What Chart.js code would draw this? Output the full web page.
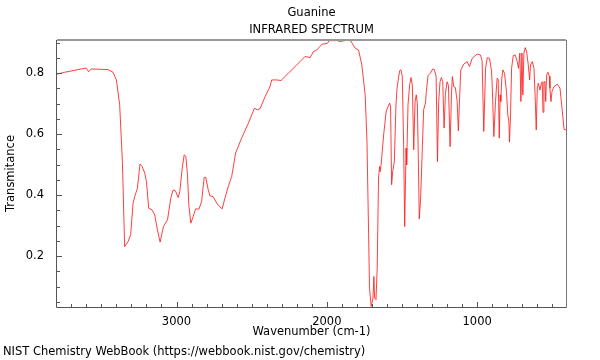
<!DOCTYPE html>
<html>
<head>
<meta charset="utf-8">
<script src="https://cdn.jsdelivr.net/npm/chart.js@4/dist/chart.umd.min.js"></script>
<style>
html,body{margin:0;padding:0;background:#fff;}
#c{display:block;}
</style>
</head>
<body>
<canvas id="c" width="600" height="360"></canvas>
<script>
const chartTitle = "Guanine";
const chartSubtitle = "INFRARED SPECTRUM";
const xTitle = "Wavenumber (cm-1)";
const yTitle = "Transmitance";
const footerText = "NIST Chemistry WebBook (https://webbook.nist.gov/chemistry)";
const xTickValues = [1000, 2000, 3000];
const yTickValues = [0.2, 0.4, 0.6, 0.8];

const wavenumbers = [
3795,3745,3633,3600,3585,3567,3456,3422,3400,3378,3360,3345,3322,3305,3289,3278,3260,3243,3229,3211,
3200,3185,3163,3145,3127,3109,3087,3060,3038,3023,3007,2989,2978,2962,2949,2938,2927,2918,2905,2889,
2873,2851,2833,2816,2805,2789,2778,2756,2733,2711,2696,2678,2656,2633,2616,2607,2567,2522,2482,2462,
2444,2411,2378,2367,2333,2305,2256,2178,2145,2111,2089,2067,2033,1996,1985,1929,1916,1878,1845,1811,
1789,1767,1745,1733,1722,1716,1705,1693,1687,1682,1673,1665,1656,1649,1645,1638,1622,1605,1582,1576,
1569,1562,1551,1540,1533,1516,1507,1498,1489,1482,1473,1469,1460,1449,1440,1431,1422,1413,1405,1398,
1393,1385,1376,1367,1356,1344,1338,1327,1311,1296,1285,1273,1264,1256,1247,1238,1229,1220,1211,1200,
1191,1180,1171,1165,1156,1145,1133,1125,1116,1109,1089,1067,1051,1033,1000,978,967,956,944,933,
918,905,900,889,878,867,860,853,847,843,836,829,818,805,796,789,785,778,771,760,
747,733,725,716,709,702,696,689,680,671,660,651,645,633,622,613,607,600,593,582,
573,567,562,556,549,544,538,529,520,516,509,502,489,467,449,433,422,409
];
const transmittance = [
0.797,0.803,0.814,0.817,0.805,0.814,0.812,0.803,0.778,0.696,0.510,0.231,0.248,0.270,0.374,0.395,0.423,0.502,0.494,0.472,
0.445,0.357,0.352,0.335,0.286,0.246,0.297,0.319,0.390,0.417,0.414,0.392,0.412,0.489,0.532,0.527,0.467,0.368,0.308,0.330,
0.355,0.354,0.379,0.458,0.458,0.417,0.398,0.395,0.374,0.361,0.355,0.390,0.428,0.461,0.510,0.538,0.587,0.636,0.685,0.680,
0.684,0.723,0.756,0.778,0.778,0.776,0.800,0.838,0.855,0.851,0.871,0.876,0.895,0.898,0.907,0.907,0.904,0.907,0.909,0.882,
0.876,0.827,0.729,0.576,0.270,0.095,0.035,0.062,0.133,0.062,0.057,0.161,0.456,0.494,0.477,0.505,0.598,0.676,0.702,0.690,
0.434,0.477,0.510,0.696,0.751,0.808,0.811,0.789,0.565,0.297,0.554,0.499,0.696,0.762,0.786,0.760,0.549,0.707,0.729,0.700,
0.565,0.322,0.390,0.521,0.680,0.702,0.740,0.792,0.800,0.814,0.812,0.790,0.510,0.707,0.772,0.786,0.772,0.620,0.734,0.772,
0.760,0.559,0.729,0.789,0.756,0.753,0.707,0.611,0.729,0.811,0.830,0.838,0.822,0.849,0.863,0.860,0.840,0.609,0.816,0.851,
0.849,0.810,0.762,0.592,0.707,0.784,0.780,0.587,0.729,0.707,0.784,0.811,0.800,0.740,0.663,0.641,0.574,0.663,0.816,0.858,
0.860,0.838,0.816,0.866,0.707,0.866,0.729,0.866,0.884,0.871,0.827,0.778,0.827,0.838,0.816,0.707,0.614,0.751,0.767,0.745,
0.767,0.772,0.672,0.772,0.772,0.707,0.794,0.803,0.790,0.751,0.707,0.740,0.756,0.764,0.751,0.673,0.616,0.614
];

const FONT = "'DejaVu Sans', 'Liberation Sans', sans-serif";
const FS = 11.5;
const points = wavenumbers.map((w, i) => ({x: w, y: transmittance[i]}));
const xMin = Math.min(...wavenumbers), xMax = Math.max(...wavenumbers);
const yMin = Math.min(...transmittance) - 0.002, yMax = Math.max(...transmittance);

const framePlugin = {
  id: 'frame',
  afterDraw(chart) {
    const ctx = chart.ctx;
    const a = chart.chartArea;
    const xs = chart.scales.x, ys = chart.scales.y;
    ctx.save();
    ctx.strokeStyle = '#555';
    ctx.lineWidth = 1;
    ctx.beginPath();
    for (let v = 500; v <= 3700; v += 100) {
      const px = Math.round(xs.getPixelForValue(v)) + 0.5;
      const len = (v % 1000 === 0) ? 5 : 3;
      ctx.moveTo(px, a.bottom);
      ctx.lineTo(px, a.bottom - len);
    }
    for (let k = 1; k <= 18; k++) {
      const v = k * 0.05;
      if (v < ys.min || v > ys.max) continue;
      const py = Math.round(ys.getPixelForValue(v)) + 0.5;
      const len = (k % 4 === 0) ? 5 : 3;
      ctx.moveTo(a.left, py);
      ctx.lineTo(a.left + len, py);
    }
    ctx.stroke();
    ctx.strokeStyle = '#999';
    ctx.lineWidth = 2;
    ctx.beginPath();
    ctx.moveTo(a.left, a.top);
    ctx.lineTo(a.right, a.top);
    ctx.stroke();
    ctx.lineWidth = 1;
    ctx.strokeStyle = '#777';
    ctx.beginPath();
    ctx.moveTo(a.right + 0.5, a.top);
    ctx.lineTo(a.right + 0.5, a.bottom + 0.5);
    ctx.stroke();
    ctx.strokeStyle = '#555';
    ctx.beginPath();
    ctx.moveTo(a.left - 0.5, a.top);
    ctx.lineTo(a.left - 0.5, a.bottom + 0.5);
    ctx.lineTo(a.right + 0.5, a.bottom + 0.5);
    ctx.stroke();
    ctx.fillStyle = '#000';
    ctx.font = FS + 'px ' + FONT;
    ctx.textAlign = 'center';
    ctx.textBaseline = 'middle';
    const cx = (a.left + a.right) / 2;
    ctx.fillText(chartTitle, cx, 13);
    ctx.fillText(chartSubtitle, cx, 30);
    ctx.fillText(xTitle, cx, 332);
    ctx.save();
    ctx.translate(11, (a.top + a.bottom) / 2);
    ctx.rotate(-Math.PI / 2);
    ctx.fillText(yTitle, 0, 0);
    ctx.restore();
    ctx.textAlign = 'left';
    ctx.fillText(footerText, 3, 352);
    ctx.restore();
  }
};

new Chart(document.getElementById('c'), {
  type: 'line',
  data: {
    datasets: [{
      data: points,
      borderColor: 'rgba(255,30,30,0.85)',
      borderWidth: 1,
      pointRadius: 0,
      tension: 0,
      fill: false
    }]
  },
  options: {
    responsive: false,
    animation: false,
    layout: {padding: {left: 0, right: 34, top: 40, bottom: 0}},
    plugins: {legend: {display: false}, tooltip: {enabled: false}, title: {display: false}},
    scales: {
      x: {
        type: 'linear',
        reverse: true,
        min: xMin,
        max: xMax,
        afterBuildTicks: s => { s.ticks = xTickValues.map(v => ({value: v})); },
        afterFit: s => { s.height = 53; },
        grid: {display: false},
        border: {display: false},
        ticks: {color: '#000', font: {family: FONT, size: FS}, padding: 0, maxRotation: 0, autoSkip: false,
          callback: v => String(v)}
      },
      y: {
        type: 'linear',
        min: yMin,
        max: yMax,
        afterBuildTicks: s => { s.ticks = yTickValues.map(v => ({value: v})); },
        afterFit: s => { s.width = 57; },
        grid: {display: false},
        border: {display: false},
        ticks: {color: '#000', font: {family: FONT, size: FS}, padding: 5, autoSkip: false,
          callback: v => v.toFixed(1)}
      }
    }
  },
  plugins: [framePlugin]
});
</script>
</body>
</html>
